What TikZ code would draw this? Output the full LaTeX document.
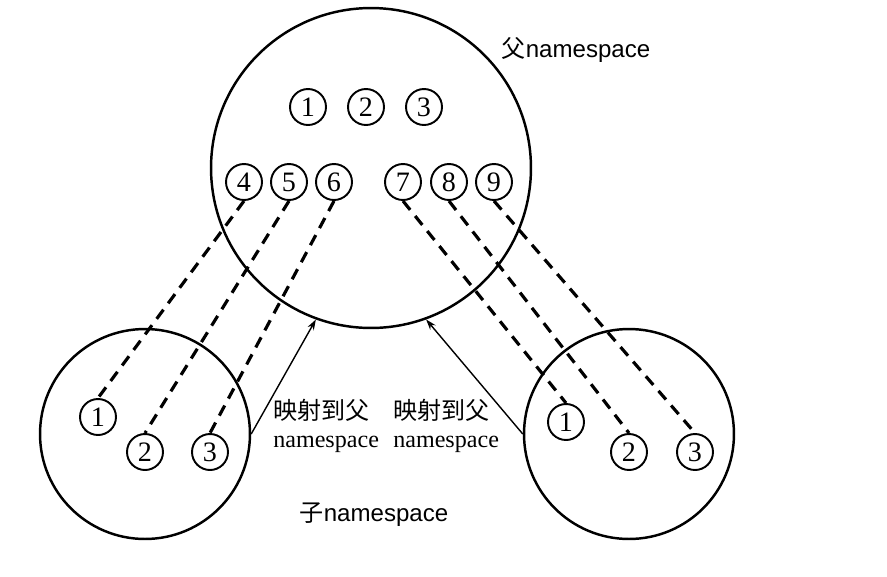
\documentclass[tikz,border=0pt]{standalone}
\usepackage{fontspec}
\setmainfont{Liberation Serif}
\setsansfont{Liberation Sans}
\newfontfamily\cjk{Noto Sans CJK SC}
\usepackage{tikz}
\usetikzlibrary{arrows.meta, positioning}

\begin{document}
\begin{tikzpicture}[
    x=0.02cm, y=-0.02cm,
    font=\fontsize{13.7}{16}\selectfont,
    space/.style={circle, draw, line width=1.4pt, inner sep=0pt},
    num/.style={circle, draw, line width=1.1pt, inner sep=0pt, minimum size=0.72cm,
        font=\fontsize{16}{18}\selectfont},
    link/.style={line width=1.8pt, dash pattern=on 6.5pt off 4.5pt},
    map/.style={line width=0.8pt, -{Stealth[length=6pt, width=4pt]}}
]
\useasboundingbox (0,0) rectangle (887,576);

% Parent namespace
\node[space, minimum size=6.4cm] (parent) at (371,168) {};
\node (ptitle) at (576,50) {\sffamily{\cjk 父}namespace};

\node[num] (p1) at (308,107) {1};
\node[num] (p2) at (366,107) {2};
\node[num] (p3) at (424,107) {3};
\node[num] (p4) at (244,182) {4};
\node[num] (p5) at (289,182) {5};
\node[num] (p6) at (334,182) {6};
\node[num] (p7) at (403,182) {7};
\node[num] (p8) at (449,182) {8};
\node[num] (p9) at (494,182) {9};

% Left child namespace
\node[space, minimum size=4.2cm] (childL) at (145,434) {};
\node[num] (l1) at (98,417) {1};
\node[num] (l2) at (145,452) {2};
\node[num] (l3) at (210,452) {3};

% Right child namespace
\node[space, minimum size=4.2cm] (childR) at (629,434) {};
\node[num] (r1) at (566,422) {1};
\node[num] (r2) at (629,452) {2};
\node[num] (r3) at (695,452) {3};

\node (ctitle) at (374,515) {\sffamily{\cjk 子}namespace};

% Mapping labels
\node[anchor=west, align=left, inner sep=0pt] (mapL) at (273,426) {{\cjk 映射到父}\\namespace};
\node[anchor=west, align=left, inner sep=0pt] (mapR) at (393,426) {{\cjk 映射到父}\\namespace};

\draw[link] (p4.south) -- (l1.north);
\draw[link] (p5.south) -- (l2.north);
\draw[link] (p6.south) -- (l3.north);
\draw[link] (p7.south) -- (r1.north);
\draw[link] (p8.south) -- (r2.north);
\draw[link] (p9.south) -- (r3.north);

\draw[map] (childL.east) -- (parent.250);
\draw[map] (childR.west) -- (parent.290);

\end{tikzpicture}
\end{document}
